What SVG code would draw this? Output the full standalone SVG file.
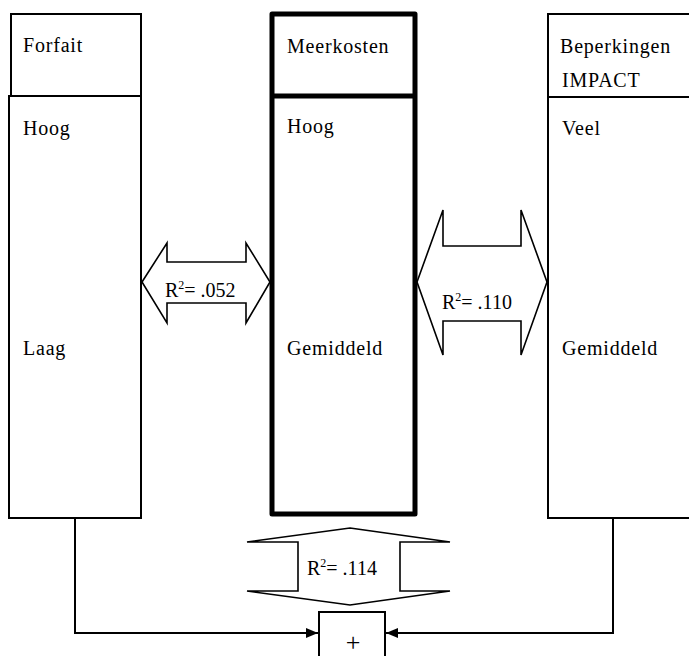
<svg xmlns="http://www.w3.org/2000/svg" width="689" height="656" viewBox="0 0 689 656">
<defs>
<style>
.box{fill:#fff;stroke:#000;stroke-width:2}
.thick{fill:#fff;stroke:#000;stroke-width:5;stroke-linejoin:round}
.dbl{fill:#fff;stroke:#000;stroke-width:1.6;stroke-linejoin:miter}
text{font-family:'Liberation Serif',serif;fill:#000}
.t{font-size:20px;letter-spacing:0.8px}
.r{font-size:20px}
.sup{font-size:12px}
.pl{font-size:26px}
.conn{fill:none;stroke:#000;stroke-width:2}
</style>
<marker id="ah" viewBox="0 0 12 10" refX="12" refY="5" markerWidth="12" markerHeight="10" markerUnits="userSpaceOnUse" orient="auto">
<path d="M0,0 L12,5 L0,10 Z" fill="#000"/>
</marker>
</defs>
<rect width="689" height="656" fill="#fff"/>

<g id="connectors">
<path class="conn" d="M75,518 V633 H318" marker-end="url(#ah)"/>
<path class="conn" d="M613,518 V633 H386" marker-end="url(#ah)"/>
</g>

<g id="forfait">
<rect class="box" x="11" y="14" width="130" height="82"/>
<rect class="box" x="9" y="96" width="132" height="422"/>
<text class="t" x="23" y="52">Forfait</text>
<text class="t" x="23" y="135">Hoog</text>
<text class="t" x="23" y="355">Laag</text>
</g>

<g id="meerkosten">
<rect class="thick" x="272" y="14" width="143" height="500"/>
<line x1="272" y1="96" x2="415" y2="96" stroke="#000" stroke-width="5"/>
<text class="t" x="287" y="53">Meerkosten</text>
<text class="t" x="287" y="133">Hoog</text>
<text class="t" x="287" y="355">Gemiddeld</text>
</g>

<g id="beperkingen">
<rect class="box" x="548" y="14" width="160" height="83"/>
<rect class="box" x="548" y="97" width="160" height="421"/>
<text class="t" x="560" y="53">Beperkingen</text>
<text class="t" x="562" y="87">IMPACT</text>
<text class="t" x="562" y="135">Veel</text>
<text class="t" x="562" y="355">Gemiddeld</text>
</g>

<g id="arrow-left">
<path class="dbl" d="M142,282 L167,243 V262 H246 V243 L270,282 L246,323 V303 H167 V323 Z"/>
<text class="r" x="165" y="297">R<tspan class="sup" dy="-8">2</tspan><tspan dy="8">= .052</tspan></text>
</g>

<g id="arrow-right">
<path class="dbl" d="M417,282 L443,210 V246 H521 V210 L547,282 L521,355 V321 H443 V355 Z"/>
<text class="r" x="442" y="309">R<tspan class="sup" dy="-8">2</tspan><tspan dy="8">= .110</tspan></text>
</g>

<g id="arrow-bottom">
<path class="dbl" d="M350,528 L450,542 H400 V591 H450 L350,605 L247,591 H298 V542 H247 Z"/>
<text class="r" x="307" y="575">R<tspan class="sup" dy="-8">2</tspan><tspan dy="8">= .114</tspan></text>
</g>

<g id="plus">
<rect class="box" x="319" y="612" width="66" height="60"/>
<text class="pl" x="353" y="651" text-anchor="middle">+</text>
</g>
</svg>
